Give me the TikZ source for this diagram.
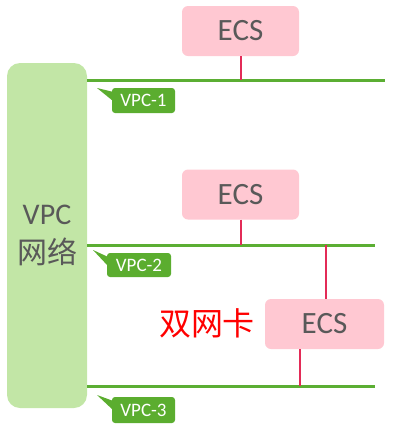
\documentclass[tikz,border=0pt]{standalone}
\usepackage{fontspec}
\setmainfont{Carlito}
\newfontfamily\cjk{Noto Sans CJK SC}
\usetikzlibrary{calc}
\definecolor{ecspink}{HTML}{FFC8D2}
\definecolor{colgreen}{HTML}{C2E6A6}
\definecolor{linegreen}{HTML}{5BAE33}
\definecolor{labgreen}{HTML}{5BAD2F}
\definecolor{connred}{HTML}{E32B57}
\definecolor{txtgray}{HTML}{595959}
\begin{document}
\begin{tikzpicture}[x=1pt,y=-1pt,
  ecsbox/.style={fill=ecspink, rounded corners=6pt, minimum width=117pt, minimum height=50pt, inner sep=0pt, text=txtgray, font=\fontsize{31}{33}\selectfont},
  vpclab/.style={fill=labgreen, rounded corners=3pt, minimum width=63pt, minimum height=25pt, inner sep=0pt, text=white, font=\fontsize{19}{21}\selectfont},
  tail/.style={fill=labgreen},
  vline/.style={draw=linegreen, line width=3pt},
  conn/.style={draw=connred, line width=1.2pt}]
\useasboundingbox (0,0) rectangle (393,432);
% column
\node[fill=colgreen, rounded corners=13pt, minimum width=80pt, minimum height=345pt, inner sep=0pt, text=txtgray, align=center, font=\fontsize{30}{39}\selectfont] (col) at (47,235.5) {VPC\\{\cjk\fontsize{30}{39}\selectfont 网络}};
% lines
\coordinate (l1a) at (87,80);  \coordinate (l1b) at (385,80);
\coordinate (l2a) at (87,245); \coordinate (l2b) at (375,245);
\coordinate (l3a) at (87,386); \coordinate (l3b) at (375,386);
\draw[vline] (l1a) -- (l1b);
\draw[vline] (l2a) -- (l2b);
\draw[vline] (l3a) -- (l3b);
% ECS nodes
\node[ecsbox] (ecs1) at (240.5,31) {ECS};
\node[ecsbox] (ecs2) at (240.5,194.5) {ECS};
\node[ecsbox, minimum width=119pt] (ecs3) at (324.5,324) {ECS};
% connectors
\coordinate (j1) at (241,80);
\coordinate (j2) at (241,245);
\coordinate (j3) at (326,245);
\coordinate (j4) at (300,386);
\draw[conn] (ecs1.south -| j1) -- (j1);
\draw[conn] (ecs2.south -| j2) -- (j2);
\draw[conn] (j3) -- (j3 |- ecs3.north);
\draw[conn] (ecs3.south -| j4) -- (j4);
% labels
\node[vpclab] (v1) at (143.5,100.5) {VPC-1};
\node[vpclab, minimum width=64pt, minimum height=24pt] (v2) at (139,265) {VPC-2};
\node[vpclab, minimum height=26pt] (v3) at (143.5,410) {VPC-3};
\fill[tail] (97,88) -- ($(v1.north west)+(1,4)$) -- ($(v1.north west)+(1,13)$) -- cycle;
\fill[tail] (93,250) -- ($(v2.north west)+(1,4)$) -- ($(v2.north west)+(1,13)$) -- cycle;
\fill[tail] (97,395) -- ($(v3.north west)+(1,4)$) -- ($(v3.north west)+(1,13)$) -- cycle;
% dual NIC text
\node[text=red, font=\cjk\fontsize{32}{34}\selectfont, inner sep=0pt] (dual) at (207,323) {双网卡};
\end{tikzpicture}
\end{document}
